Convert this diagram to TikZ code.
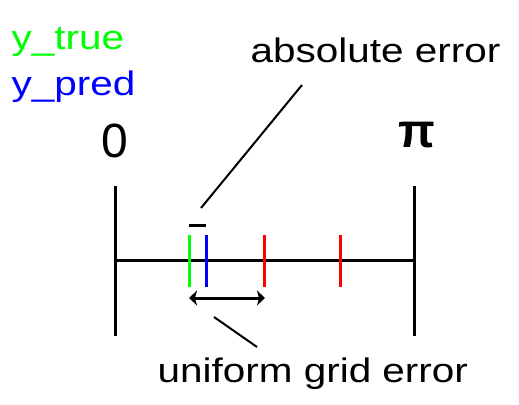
\documentclass[tikz,border=0pt]{standalone}
\usepackage{fontspec}
\usetikzlibrary{arrows.meta}
\newfontfamily\labfont[FakeStretch=1.19]{Liberation Sans}
\newfontfamily\numfont{Liberation Sans}
\newfontfamily\pifont[BoldFont={Liberation Sans Bold}]{Liberation Sans}
\definecolor{ytrue}{RGB}{0,255,0}
\definecolor{ypred}{RGB}{0,0,255}
\definecolor{grid}{RGB}{255,0,0}
\begin{document}
\begin{tikzpicture}[x=1pt,y=-1pt,
  lab/.style={inner sep=0pt,anchor=base west,font=\labfont\fontsize{34}{40}\selectfont},
  axis/.style={line width=3pt},
  tickmark/.style={line width=3pt},
  leader/.style={line width=2pt},
  arr/.style={line width=3pt,{Stealth[length=8pt,width=15pt,inset=2pt]}-{Stealth[length=8pt,width=15pt,inset=2pt]}}]
\useasboundingbox (0,0) rectangle (519,404);
% labels
\node[lab,text=ytrue] (ytrue) at (11.5,49) {y\_true};
\node[lab,text=ypred] (ypred) at (11.5,95) {y\_pred};
\node[lab] (abserr) at (250.5,62.7) {absolute error};
\node[lab] (griderr) at (157.5,382.3) {uniform grid error};
\node[inner sep=0pt,anchor=base,font=\numfont\fontsize{48}{56}\selectfont] (zero) at (115,157) {0};
\node[inner sep=0pt,anchor=base,font=\pifont\bfseries\fontsize{48}{56}\selectfont] (pi) at (417,147) {π};
% axis
\coordinate (lt) at (115,186); \coordinate (lb) at (115,336);
\coordinate (rt) at (414,186); \coordinate (rb) at (414,336);
\coordinate (lm) at (115,260.5); \coordinate (rm) at (414,260.5);
\draw[axis] (lt) -- (lb);
\draw[axis] (rt) -- (rb);
\draw[axis] (lm) -- (rm);
% ticks
\coordinate (gt) at (189.3,235); \coordinate (gb) at (189.3,287);
\coordinate (bt) at (206.3,235); \coordinate (bb) at (206.3,287);
\coordinate (r1t) at (264.7,235); \coordinate (r1b) at (264.7,287);
\coordinate (r2t) at (340,235); \coordinate (r2b) at (340,287);
\draw[tickmark,ytrue] (gt) -- (gb);
\draw[tickmark,ypred] (bt) -- (bb);
\draw[tickmark,grid] (r1t) -- (r1b);
\draw[tickmark,grid] (r2t) -- (r2b);
% absolute error dash and leader
\coordinate (dl) at (189,225); \coordinate (dr) at (206,225);
\draw[line width=3pt] (dl) -- (dr);
\coordinate (a1) at (201,208); \coordinate (a2) at (302,85);
\draw[leader] (a1) -- (a2);
% uniform grid arrow and leader
\coordinate (gl) at (189,298); \coordinate (gr) at (265,298);
\draw[arr] (gl) -- (gr);
\coordinate (u1) at (214,317); \coordinate (u2) at (257,347);
\draw[leader] (u1) -- (u2);
\end{tikzpicture}
\end{document}
